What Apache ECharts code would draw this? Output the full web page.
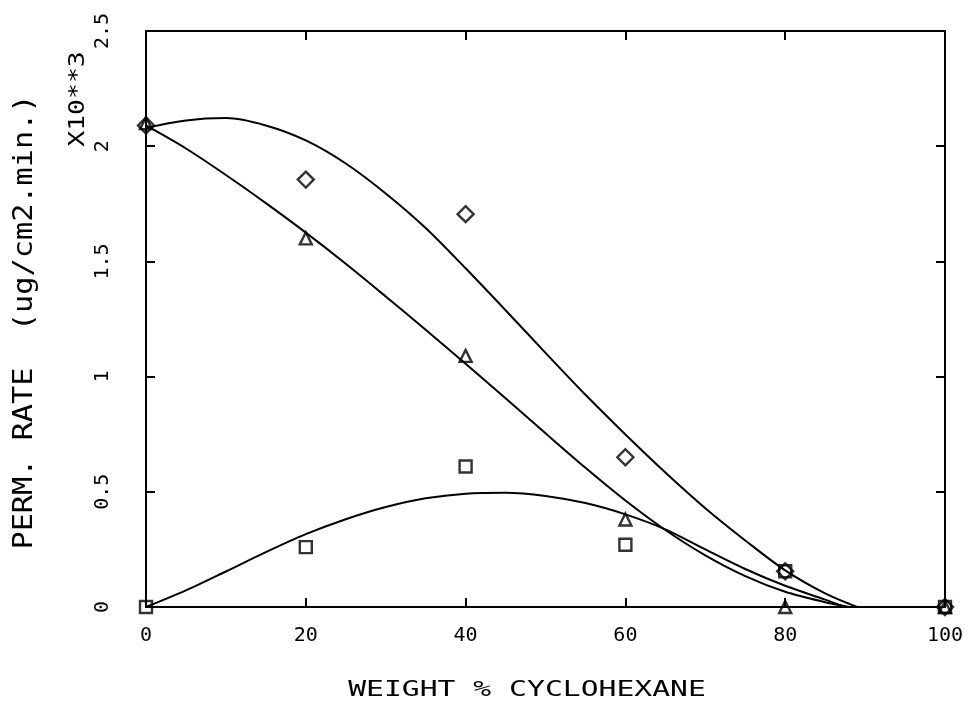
<!DOCTYPE html>
<html>
<head>
<meta charset="utf-8">
<script src="https://cdn.jsdelivr.net/npm/echarts@6/dist/echarts.min.js"></script>
<style>
  html, body { margin: 0; padding: 0; background: #fff; }
  #chart { width: 970px; height: 715px; }
</style>
</head>
<body>
<div id="chart"></div>
<script>
// Measured permeation rates (x10^3 ug/cm2.min) vs. weight % cyclohexane
const weightPct     = [0, 20, 40, 60, 80, 100];
const diamondRate   = [2.09, 1.855, 1.705, 0.65, 0.155, 0];
const triangleRate  = [2.10, 1.60, 1.09, 0.38, 0, 0];
const squareRate    = [0, 0.26, 0.61, 0.27, 0.155, 0];

// Fitted curves, read along x
const diamondFitX  = [0, 5, 10, 15, 20, 25, 30, 35, 40, 45, 50, 55, 60, 65, 70, 75, 80, 85, 89];
const diamondFitY  = [2.08, 2.112, 2.122, 2.09, 2.025, 1.925, 1.795, 1.645, 1.47, 1.288, 1.103, 0.921, 0.749, 0.584, 0.429, 0.289, 0.159, 0.059, 0];
const triangleFitX = [0, 5, 10, 15, 20, 25, 30, 35, 40, 45, 50, 55, 60, 65, 70, 75, 80, 85, 88];
const triangleFitY = [2.09, 1.99, 1.875, 1.753, 1.625, 1.49, 1.348, 1.203, 1.056, 0.906, 0.754, 0.604, 0.462, 0.334, 0.224, 0.134, 0.066, 0.021, 0];
const squareFitX   = [0, 5, 10, 15, 20, 25, 30, 35, 40, 45, 50, 55, 60, 65, 70, 75, 80, 85, 87.5];
const squareFitY   = [0, 0.072, 0.154, 0.238, 0.316, 0.381, 0.434, 0.472, 0.492, 0.496, 0.482, 0.451, 0.402, 0.337, 0.25, 0.165, 0.092, 0.032, 0];

const xTitle = 'WEIGHT % CYCLOHEXANE';
const yTitle = 'PERM. RATE  (ug/cm2.min.)';
const yScale = 'X10**3';

const FONT = '"DejaVu Sans Mono", monospace';
const INK = '#000';

const pairs = (xs, ys) => xs.map((x, i) => [x, ys[i]]);

const lineAxis = { onZero: false, lineStyle: { color: INK, width: 2 } };
const tickIn = { show: true, inside: true, length: 9, lineStyle: { color: INK, width: 2 } };

function curve(xs, ys) {
  return {
    type: 'line', data: pairs(xs, ys), smooth: 0.3, symbol: 'none',
    lineStyle: { color: INK, width: 2 }, z: 2, silent: true
  };
}
function marks(ys, symbol, size) {
  return {
    type: 'scatter', data: pairs(weightPct, ys), symbol: symbol, symbolSize: size,
    itemStyle: { color: 'rgba(0,0,0,0)', borderColor: INK, borderWidth: 2.4 }, z: 3, silent: true
  };
}

const chart = echarts.init(document.getElementById('chart'), null, { renderer: 'canvas' });
chart.setOption({
  animation: false,
  backgroundColor: '#fff',
  grid: { left: 146, right: 25, top: 31, bottom: 108 },
  xAxis: [
    {
      type: 'value', min: 0, max: 100, interval: 20, position: 'bottom',
      axisLine: lineAxis, axisTick: tickIn, splitLine: { show: false },
      axisLabel: { color: INK, fontFamily: FONT, fontSize: 20, margin: 19 }
    },
    {
      type: 'value', min: 0, max: 100, interval: 20, position: 'top',
      axisLine: lineAxis, axisTick: tickIn, splitLine: { show: false },
      axisLabel: { show: false }
    }
  ],
  yAxis: [
    {
      type: 'value', min: 0, max: 2.5, interval: 0.5, position: 'left',
      axisLine: lineAxis, axisTick: tickIn, splitLine: { show: false },
      axisLabel: { color: INK, fontFamily: FONT, fontSize: 20, rotate: 90, margin: 33 }
    },
    {
      type: 'value', min: 0, max: 2.5, interval: 0.5, position: 'right',
      axisLine: lineAxis, axisTick: tickIn, splitLine: { show: false },
      axisLabel: { show: false }
    }
  ],
  series: [
    curve(diamondFitX, diamondFitY),
    curve(triangleFitX, triangleFitY),
    curve(squareFitX, squareFitY),
    marks(diamondRate, 'path://M0,-1L1,0L0,1L-1,0Z', 16),
    marks(triangleRate, 'triangle', 12),
    marks(squareRate, 'rect', 12)
  ],
  graphic: [
    {
      type: 'text', x: 527, y: 690, scaleX: 1.35,
      style: { text: xTitle, fill: INK, font: '22px ' + FONT, textAlign: 'center', textVerticalAlign: 'middle' }
    },
    {
      type: 'text', x: 25, y: 322, rotation: Math.PI / 2, scaleX: 1.12,
      style: { text: yTitle, fill: INK, font: '27px ' + FONT, textAlign: 'center', textVerticalAlign: 'middle' }
    },
    {
      type: 'text', x: 78, y: 99, rotation: Math.PI / 2, scaleX: 1.2,
      style: { text: yScale, fill: INK, font: '22px ' + FONT, textAlign: 'center', textVerticalAlign: 'middle' }
    }
  ]
});
</script>
</body>
</html>
